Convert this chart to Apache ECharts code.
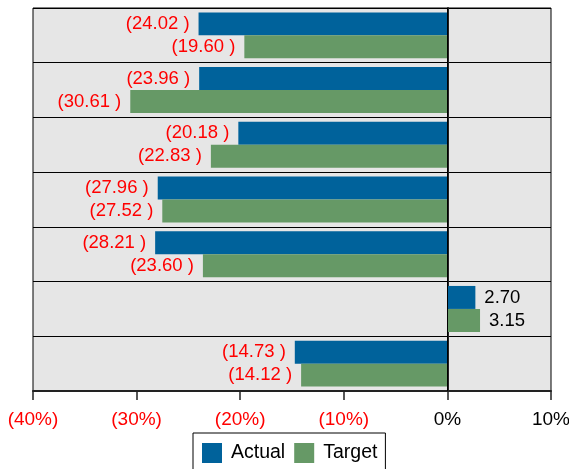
<!DOCTYPE html>
<html>
<head>
<meta charset="utf-8">
<script src="https://cdn.jsdelivr.net/npm/echarts@6/dist/echarts.min.js"></script>
<style>
  html, body { margin: 0; padding: 0; background: #fff; }
  #chart { width: 569px; height: 469px; }
</style>
</head>
<body>
<div id="chart"></div>
<script>
// Rows, top to bottom
const categories = ['Row 1', 'Row 2', 'Row 3', 'Row 4', 'Row 5', 'Row 6', 'Row 7'];
const actualValues = [-24.02, -23.96, -20.18, -27.96, -28.21, 2.70, -14.73];
const targetValues = [-19.60, -30.61, -22.83, -27.52, -23.60, 3.15, -14.12];
const seriesNames = ['Actual', 'Target'];
const xMin = -40, xMax = 10, xStep = 10;

const FONT = '"Liberation Sans", Arial, sans-serif';

function fmtValue(v) {
  return v < 0 ? '(' + Math.abs(v).toFixed(2) + ' )' : v.toFixed(2);
}
function fmtTick(v) {
  return v < 0 ? '(' + Math.abs(v) + '%)' : v + '%';
}

function toItems(values) {
  return values.map(v => ({
    value: v,
    label: {
      position: v < 0 ? 'left' : 'right',
      color: v < 0 ? '#ff0000' : '#000000'
    }
  }));
}

const chart = echarts.init(document.getElementById('chart'), null, { renderer: 'canvas' });

const barLabel = {
  show: true,
  fontFamily: FONT,
  fontSize: 18.5,
  distance: 9,
  formatter: p => fmtValue(p.value)
};

chart.setOption({
  animation: false,
  textStyle: { fontFamily: FONT },
  legend: {
    data: seriesNames,
    left: 193,
    top: 433,
    itemWidth: 20,
    itemHeight: 20,
    itemGap: 9,
    padding: [10, 8, 12, 9],
    borderColor: '#000',
    borderWidth: 1,
    backgroundColor: '#fff',
    selectedMode: false,
    icon: 'rect',
    textStyle: { fontFamily: FONT, fontSize: 19.5, color: '#000', padding: [0, 0, 0, 4] }
  },
  grid: {
    left: 33, right: 18, top: 8, bottom: 78,
    containLabel: false,
    outerBoundsMode: 'none',
    show: true,
    backgroundColor: '#e6e6e6',
    borderColor: '#000',
    borderWidth: 1
  },
  xAxis: {
    type: 'value',
    min: xMin, max: xMax, interval: xStep,
    axisLine: { show: true, onZero: false, lineStyle: { color: '#222', width: 2 } },
    axisTick: { show: true, length: 9, lineStyle: { color: '#222', width: 1.5 } },
    splitLine: { show: false },
    axisLabel: {
      fontFamily: FONT, fontSize: 19, margin: 19,
      formatter: fmtTick,
      color: v => (v < 0 ? '#ff0000' : '#000000')
    }
  },
  yAxis: {
    type: 'category',
    data: categories,
    inverse: true,
    axisLine: { show: true, lineStyle: { color: '#222', width: 2 } },
    axisTick: { show: false },
    axisLabel: { show: false },
    splitLine: { show: true, lineStyle: { color: '#000', width: 1 } }
  },
  series: [
    {
      name: seriesNames[0],
      type: 'bar',
      data: toItems(actualValues),
      itemStyle: { color: '#00629b' },
      barGap: '0%',
      barCategoryGap: '16%',
      label: barLabel,
      markLine: {
        silent: true,
        symbol: 'none',
        label: { show: false },
        lineStyle: { color: '#000', width: 1, type: 'solid' },
        data: [{ xAxis: 0 }]
      }
    },
    {
      name: seriesNames[1],
      type: 'bar',
      data: toItems(targetValues),
      itemStyle: { color: '#669966' },
      barGap: '0%',
      barCategoryGap: '16%',
      label: barLabel
    }
  ]
});
</script>
</body>
</html>
